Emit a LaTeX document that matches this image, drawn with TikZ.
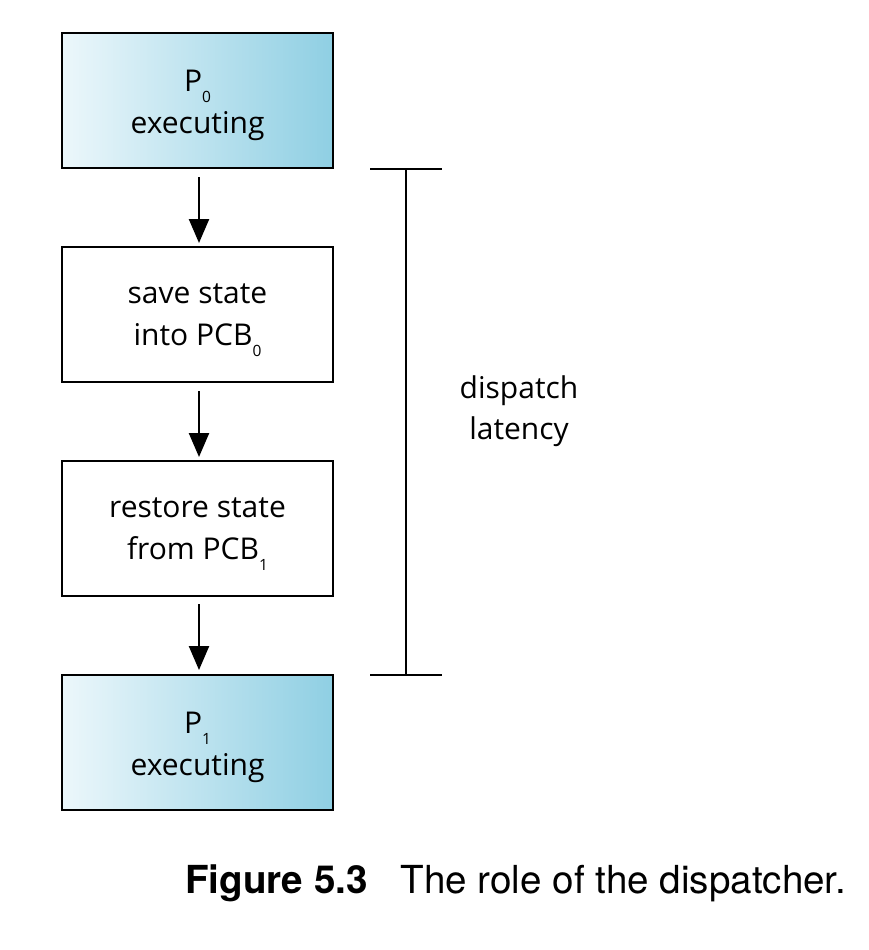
\documentclass[tikz,border=0pt]{standalone}
\usepackage{fontspec}
\setmainfont{Open Sans}
\newfontfamily\capfont{TeX Gyre Heros}
\usetikzlibrary{arrows.meta}
\definecolor{boxL}{RGB}{236,247,251}
\definecolor{boxR}{RGB}{143,207,227}
\newcommand{\lowsub}[1]{\raisebox{-0.36em}{\fontsize{15.5}{15.5}\selectfont #1}}
\tikzset{
  stepbox/.style={draw=black, line width=2.4pt, minimum width=271pt, minimum height=135pt,
    inner sep=0pt},
  runbox/.style={stepbox, left color=boxL, right color=boxR},
  boxtext/.style={align=center, inner sep=0pt, font=\fontsize{30}{42}\selectfont},
  flow/.style={line width=2.4pt, -{Triangle[length=24pt,width=20pt]}},
  brk/.style={line width=2.2pt},
  lbl/.style={align=center, font=\fontsize{30}{41}\selectfont}
}
\begin{document}
\begin{tikzpicture}[x=1pt,y=-1pt]
\useasboundingbox (0,0) rectangle (868,950);
\fill[white] (0,0) rectangle (868,950);
\node[runbox] (p0) at (197.5,100.5) {};
\node[stepbox] (save) at (197.5,314.5) {};
\node[stepbox] (rest) at (197.5,528.5) {};
\node[runbox] (p1) at (197.5,742.5) {};
\node[boxtext] (p0t) at ([yshift=-5pt]p0.center) {P\lowsub{0}\\executing};
\node[boxtext] (savet) at ([yshift=-6pt]save.center) {save state\\into PCB\lowsub{0}};
\node[boxtext] (restt) at ([yshift=-6pt]rest.center) {restore state\\from PCB\lowsub{1}};
\node[boxtext] (p1t) at ([yshift=-5pt]p1.center) {P\lowsub{1}\\executing};
\coordinate (a1s) at (199,177); \coordinate (a1e) at (199,243);
\coordinate (a2s) at (199,391); \coordinate (a2e) at (199,457);
\coordinate (a3s) at (199,604); \coordinate (a3e) at (199,670);
\draw[flow] (a1s) -- (a1e);
\draw[flow] (a2s) -- (a2e);
\draw[flow] (a3s) -- (a3e);
\coordinate (bt) at (406,169); \coordinate (bb) at (406,675);
\coordinate (btl) at (370,169); \coordinate (btr) at (442,169);
\coordinate (bbl) at (370,675); \coordinate (bbr) at (442,675);
\draw[brk] (bt) -- (bb);
\draw[brk] (btl) -- (btr);
\draw[brk] (bbl) -- (bbr);
\node[lbl] (lat) at (519,411) {dispatch\\latency};
\node[anchor=base west, inner sep=0pt, font=\capfont\fontsize{38.6}{44}\selectfont] (cap) at (185,893)
  {\textbf{Figure 5.3}\hspace{0.85em}The role of the dispatcher.};
\end{tikzpicture}
\end{document}
